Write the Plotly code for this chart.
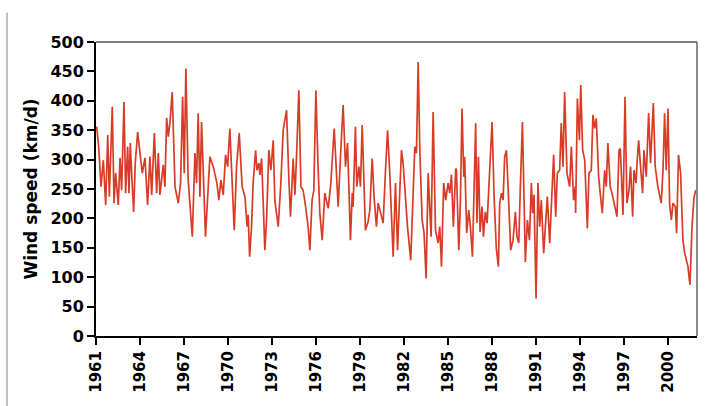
import plotly.graph_objects as go

# decimal year / wind speed (km/d)
years = [
    1961.05, 1961.20, 1961.34, 1961.50, 1961.66, 1961.80, 1961.91, 1962.11, 1962.23, 1962.34,
    1962.52, 1962.64, 1962.75, 1962.91, 1963.02, 1963.16, 1963.25, 1963.34, 1963.43, 1963.57,
    1963.68, 1963.84, 1964.00, 1964.16, 1964.34, 1964.52, 1964.68, 1964.80, 1964.98, 1965.14,
    1965.25, 1965.36, 1965.59, 1965.70, 1965.82, 1965.93, 1966.04, 1966.20, 1966.39, 1966.61,
    1966.77, 1966.91, 1967.02, 1967.13, 1967.29, 1967.57, 1967.75, 1967.86, 1967.97, 1968.09,
    1968.20, 1968.47, 1968.77, 1969.00, 1969.25,
    1969.38, 1969.52, 1969.68, 1969.84, 1969.98, 1970.13, 1970.29, 1970.43, 1970.59, 1970.77,
    1970.97, 1971.16, 1971.31, 1971.38, 1971.48, 1971.61, 1971.72, 1971.89, 1971.98, 1972.11,
    1972.18, 1972.30, 1972.52, 1972.64, 1972.79, 1972.93, 1973.09, 1973.20, 1973.43, 1973.61,
    1973.77, 1974.00, 1974.16, 1974.27, 1974.45, 1974.57, 1974.68, 1974.84, 1974.98, 1975.13,
    1975.30, 1975.47, 1975.59, 1975.74, 1975.86, 1976.00, 1976.15, 1976.27, 1976.43, 1976.61,
    1976.84, 1977.02, 1977.25, 1977.43,
    1977.52, 1977.70, 1977.86, 1978.02, 1978.16, 1978.36, 1978.48, 1978.54, 1978.70, 1978.79,
    1978.93, 1979.04, 1979.16, 1979.38, 1979.56, 1979.68, 1979.84, 1979.97, 1980.13, 1980.25,
    1980.48, 1980.59, 1980.75, 1980.89, 1981.04, 1981.27, 1981.43, 1981.57, 1981.72, 1981.84,
    1981.95, 1982.11, 1982.25, 1982.47, 1982.63, 1982.75, 1982.86, 1982.98, 1983.09, 1983.25,
    1983.38, 1983.52, 1983.66, 1983.77, 1983.86, 1984.00, 1984.16, 1984.34, 1984.45, 1984.57,
    1984.72, 1984.86, 1985.02, 1985.13, 1985.25, 1985.38, 1985.54,
    1985.59, 1985.75, 1985.86, 1985.97, 1986.09, 1986.15, 1986.29, 1986.43, 1986.54, 1986.68,
    1986.79, 1986.90, 1986.99, 1987.09, 1987.20, 1987.34, 1987.43, 1987.56, 1987.68, 1987.84,
    1988.02, 1988.16, 1988.31, 1988.45, 1988.54, 1988.66, 1988.77, 1988.88, 1989.00, 1989.11,
    1989.29, 1989.45, 1989.61, 1989.72, 1989.84, 1989.95, 1990.09, 1990.29, 1990.43, 1990.57,
    1990.70, 1990.79, 1990.88, 1991.02, 1991.15, 1991.27, 1991.38, 1991.54, 1991.66, 1991.79,
    1991.95, 1992.07, 1992.22, 1992.36, 1992.47, 1992.63, 1992.74, 1992.86, 1992.97, 1993.13,
    1993.31, 1993.43, 1993.58, 1993.70,
    1993.72, 1993.84, 1993.98, 1994.07, 1994.20, 1994.34, 1994.52, 1994.63, 1994.79, 1994.90,
    1995.02, 1995.13, 1995.29, 1995.42, 1995.54, 1995.70, 1995.81, 1995.92, 1996.08, 1996.20,
    1996.38, 1996.54, 1996.68, 1996.77, 1996.95, 1997.09, 1997.22, 1997.36, 1997.47, 1997.61,
    1997.70, 1997.84, 1997.93, 1998.02, 1998.15, 1998.29, 1998.38, 1998.54, 1998.70, 1998.83,
    1999.02, 1999.15, 1999.33, 1999.56, 1999.68, 1999.79, 1999.90, 2000.02, 2000.13, 2000.25,
    2000.36, 2000.52, 2000.61, 2000.74, 2000.88, 2001.04, 2001.16, 2001.27, 2001.38, 2001.52,
    2001.66, 2001.79, 2001.91,
]
wind_speed = [
    356, 316, 254, 299, 223, 342, 237, 390, 226, 277,
    223, 303, 248, 398, 243, 322, 243, 328, 277, 211,
    294, 347, 311, 277, 303, 223, 305, 240, 345, 243,
    311, 240, 291, 254, 371, 339, 362, 415, 254, 226,
    260, 407, 277, 455, 265, 169, 311, 260, 379, 237,
    364, 169, 305, 288, 260,
    231, 265, 240, 308, 288, 353, 248, 180, 288, 345,
    254, 237, 186, 206, 135, 186, 260, 316, 282, 294,
    274, 302, 146, 200, 316, 282, 333, 231, 186, 260,
    350, 384, 265, 203, 302, 240, 305, 418, 254, 248,
    220, 186, 146, 231, 248, 418, 288, 209, 163, 243,
    217, 260, 353, 254,
    220, 316, 393, 288, 328, 163, 243, 220, 356, 254,
    288, 254, 359, 180, 194, 214, 302, 237, 186, 226,
    203, 192, 282, 350, 277, 135, 260, 146, 243, 316,
    294, 237, 186, 129, 231, 322, 311, 466, 316, 197,
    175, 98, 277, 214, 169, 381, 180, 158, 186, 118,
    260, 231, 260, 243, 274, 186, 285,
    282, 146, 231, 387, 271, 305, 175, 214, 186, 135,
    248, 362, 192, 305, 177, 220, 169, 211, 192, 265,
    364, 237, 149, 118, 226, 243, 231, 305, 316, 254,
    146, 163, 211, 169, 158, 254, 364, 126, 197, 163,
    260, 209, 240, 64, 260, 186, 231, 141, 186, 237,
    158, 231, 308, 203, 277, 282, 362, 288, 415, 277,
    254, 322, 231, 254,
    209, 404, 333, 427, 316, 299, 183, 277, 282, 376,
    353, 370, 271, 237, 209, 282, 254, 328, 254, 243,
    220, 203, 316, 319, 206, 407, 226, 248, 288, 203,
    282, 260, 302, 333, 288, 243, 316, 271, 379, 294,
    396, 288, 254, 226, 282, 379, 282, 387, 226, 197,
    226, 220, 175, 308, 277, 163, 141, 129, 118, 87,
    186, 234, 248,
]

x_tick_years = list(range(1961, 2001, 3))
x_tick_labels = [str(y) for y in x_tick_years]
y_tick_values = list(range(0, 501, 50))

fig = go.Figure()
fig.add_trace(go.Scatter(
    x=years, y=wind_speed, mode="lines",
    line=dict(color="#d83c26", width=1.7),
    showlegend=False, hoverinfo="skip",
))

fig.update_layout(
    width=720, height=406,
    margin=dict(l=96, r=23, t=42, b=70),
    paper_bgcolor="white", plot_bgcolor="white",
    font=dict(family="DejaVu Sans", color="black"),
    xaxis=dict(
        range=[1961, 2002], tickmode="array",
        tickvals=x_tick_years, ticktext=x_tick_labels,
        tickangle=-90, ticks="outside", ticklen=7, tickwidth=2, tickcolor="black",
        showline=True, linecolor="black", linewidth=2,
        showgrid=False, zeroline=False,
        tickfont=dict(family="DejaVu Sans", size=15, color="black", weight="bold"),
    ),
    yaxis=dict(
        range=[0, 500], tickmode="array", tickvals=y_tick_values,
        ticks="outside", ticklen=7, tickwidth=2, tickcolor="black",
        showline=True, linecolor="black", linewidth=2,
        showgrid=False, zeroline=False,
        tickfont=dict(family="DejaVu Sans", size=16, color="black", weight="bold"),
        title=dict(text="Wind speed (km/d)", standoff=8,
                   font=dict(family="DejaVu Sans", size=17, color="black", weight="bold")),
    ),
    shapes=[
        dict(type="line", xref="paper", yref="paper", x0=0, x1=1, y0=1, y1=1,
             line=dict(color="#555555", width=1.5)),
        dict(type="line", xref="paper", yref="paper", x0=1, x1=1, y0=0, y1=1,
             line=dict(color="#666666", width=1.5)),
        dict(type="line", xref="paper", yref="paper", x0=-0.148, x1=-0.148, y0=-0.24, y1=1.1,
             line=dict(color="#999999", width=1.2)),
    ],
)

fig.write_html("out.html")
